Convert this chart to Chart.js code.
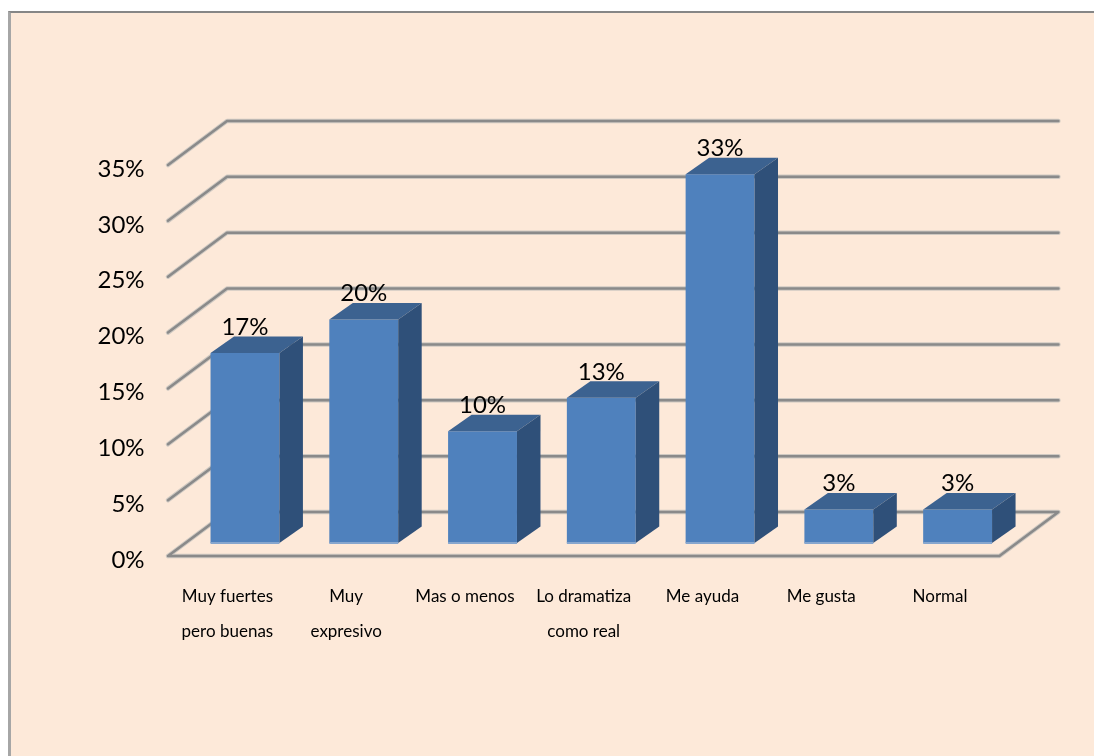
<!DOCTYPE html>
<html>
<head>
<meta charset="utf-8">
<style>
    html, body { margin: 0; padding: 0; background: #fff; overflow: hidden; }
    #frame {
        position: absolute; left: 8px; top: 11px; right: 0; bottom: 0;
        background: #FDE9D9;
        border-top: 2px solid #868686;
        border-left: 3px solid #a6a6a6;
    }
    #chart { position: absolute; left: 0; top: 0; }
</style>
<script src="https://cdn.jsdelivr.net/npm/chart.js@4"></script>
</head>
<body>
<div id="frame"></div>
<canvas id="chart" width="1094" height="756"></canvas>
<script>
const CATEGORIES = [
    ['Muy fuertes', 'pero buenas'],
    ['Muy', 'expresivo'],
    'Mas o menos',
    ['Lo dramatiza', 'como real'],
    'Me ayuda',
    'Me gusta',
    'Normal',
];
const PERCENTS = [17, 20, 10, 13, 33, 3, 3];
const Y_TICKS = [0, 5, 10, 15, 20, 25, 30, 35];

const FONT = 'Lato, Carlito, sans-serif';

// the floor is drawn in fake perspective, bars stand 30% of the way into it
const FRONT = { x: -17.6, y: 13 };
const BACK = { x: 41.4, y: -31 };
const BAR_DEPTH = { x: 23.5, y: -16.5 };

function gridLine(ctx, pts) {
    ctx.beginPath();
    pts.forEach((p, i) => i ? ctx.lineTo(p[0], p[1]) : ctx.moveTo(p[0], p[1]));
    ctx.lineJoin = 'round';
    ctx.lineCap = 'round';
    ctx.strokeStyle = '#cfc9c2';
    ctx.lineWidth = 4.5;
    ctx.stroke();
    ctx.strokeStyle = '#8a8a8a';
    ctx.lineWidth = 2.5;
    ctx.stroke();
}

const wallsPlugin = {
    id: 'walls',
    beforeDatasetsDraw(chart) {
        const { ctx, chartArea, scales } = chart;
        ctx.save();
        Y_TICKS.forEach(v => {
            const y = scales.y.getPixelForValue(v);
            const pts = [
                [chartArea.left + FRONT.x, y + FRONT.y],
                [chartArea.left + BACK.x, y + BACK.y],
                [chartArea.right + BACK.x, y + BACK.y],
            ];
            if (v === 0) {
                pts.push([chartArea.right + FRONT.x, y + FRONT.y]);
                pts.push(pts[0]);
            }
            gridLine(ctx, pts);
        });
        ctx.restore();
    },
};

const barSidesPlugin = {
    id: 'barSides',
    afterDatasetsDraw(chart) {
        const { ctx } = chart;
        ctx.save();
        chart.getDatasetMeta(0).data.forEach((bar, i) => {
            const { x, y, width, base } = bar.getProps(['x', 'y', 'width', 'base']);
            const l = x - width / 2, r = x + width / 2;

            ctx.fillStyle = '#3C6290';
            ctx.beginPath();
            ctx.moveTo(l, y);
            ctx.lineTo(l + BAR_DEPTH.x, y + BAR_DEPTH.y);
            ctx.lineTo(r + BAR_DEPTH.x, y + BAR_DEPTH.y);
            ctx.lineTo(r, y);
            ctx.closePath();
            ctx.fill();

            ctx.fillStyle = '#2F5079';
            ctx.beginPath();
            ctx.moveTo(r, y);
            ctx.lineTo(r + BAR_DEPTH.x, y + BAR_DEPTH.y);
            ctx.lineTo(r + BAR_DEPTH.x, base + BAR_DEPTH.y);
            ctx.lineTo(r, base);
            ctx.closePath();
            ctx.fill();

            // lighter rim along the foot of the bar
            ctx.fillStyle = '#86A6CE';
            ctx.fillRect(l, base - 1, width, 2);

            ctx.fillStyle = '#000';
            ctx.font = '24px ' + FONT;
            ctx.textAlign = 'center';
            ctx.textBaseline = 'middle';
            ctx.fillText(PERCENTS[i] + '%', x, y - 26);
        });
        ctx.restore();
    },
};

new Chart(document.getElementById('chart'), {
    type: 'bar',
    data: {
        labels: CATEGORIES,
        datasets: [{
            data: PERCENTS,
            backgroundColor: '#4F81BD',
            borderWidth: 0,
            barPercentage: 0.58,
            categoryPercentage: 1,
        }],
    },
    plugins: [wallsPlugin, barSidesPlugin],
    options: {
        responsive: false,
        animation: false,
        layout: { padding: { left: 0, right: 77, top: 152, bottom: 0 } },
        plugins: { legend: { display: false }, tooltip: { enabled: false } },
        scales: {
            x: {
                grid: { display: false },
                border: { display: false },
                afterFit(scale) { scale.height = 213; },
                ticks: {
                    color: '#000',
                    font: { family: FONT, size: 17, lineHeight: 2.06 },
                    maxRotation: 0,
                    autoSkip: false,
                    padding: 28,
                    labelOffset: -17.6,
                },
            },
            y: {
                min: 0,
                max: 35,
                grid: { display: false },
                border: { display: false },
                afterFit(scale) { scale.width = 185.6; },
                ticks: {
                    stepSize: 5,
                    color: '#000',
                    font: { family: FONT, size: 24 },
                    padding: 33,
                    labelOffset: 17,
                    callback: v => v + '%',
                },
            },
        },
    },
});
</script>
</body>
</html>
